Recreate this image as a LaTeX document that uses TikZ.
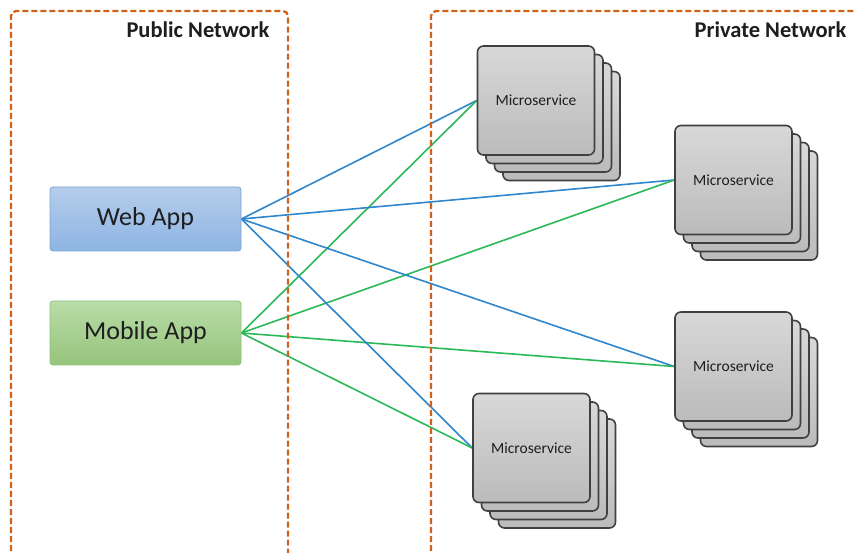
\documentclass[tikz,border=0pt]{standalone}
\usepackage{fontspec}
\setmainfont{Carlito}
\usetikzlibrary{backgrounds}

\definecolor{naranja}{HTML}{D0631A}
\definecolor{texto}{HTML}{1E1E1E}
\definecolor{azul}{HTML}{2E86CD}
\definecolor{verde}{HTML}{2BB857}
\definecolor{grisclaro}{HTML}{D8D8D8}
\definecolor{grisoscuro}{HTML}{BBBBBB}
\definecolor{borde}{HTML}{404040}
\definecolor{webborde}{HTML}{7BA3D6}
\definecolor{webarriba}{HTML}{B5CDEB}
\definecolor{webabajo}{HTML}{8EB4E3}
\definecolor{movilborde}{HTML}{8DC17A}
\definecolor{movilarriba}{HTML}{B9DCA8}
\definecolor{movilabajo}{HTML}{96C47C}

% Pila de microservicios: nombre, x, y
\newcommand{\pila}[3]{%
  \foreach \d in {25.5,17,8.5}
    \node[servicio] at (#2+\d,#3+\d) {};
  \node[servicio] (#1) at (#2,#3) {Microservice};
}

\begin{document}
\begin{tikzpicture}[x=1pt,y=-1pt,
    app/.style={draw, line width=0.8pt, rounded corners=3pt, minimum width=191pt,
      minimum height=64pt, font=\fontsize{26}{30}\selectfont, text=texto},
    servicio/.style={draw=borde, line width=1.6pt, rounded corners=6pt,
      top color=grisclaro, bottom color=grisoscuro, minimum width=117pt,
      minimum height=109pt, font=\fontsize{15.5}{18}\selectfont, text=texto},
    red/.style={draw=naranja, line width=2.3pt, dash pattern=on 6pt off 3pt,
      rounded corners=5pt},
    enlace/.style={line width=1.6pt}]
  \useasboundingbox (0,0) rectangle (855,553);

  % Aplicaciones cliente
  \node[app, draw=webborde, top color=webarriba, bottom color=webabajo] (web) at (145.5,219) {Web App};
  \node[app, draw=movilborde, top color=movilarriba, bottom color=movilabajo] (mobile) at (145.5,333) {Mobile App};

  % Microservicios apilados
  \pila{ms1}{536}{100.5}
  \pila{ms2}{733.5}{180}
  \pila{ms3}{733.5}{366.5}
  \pila{ms4}{531.5}{448}

  % Conexiones de las aplicaciones
  \begin{scope}[on background layer]
    \foreach \m in {ms1,ms2,ms3,ms4} {
      \draw[enlace, azul] (web.east) -- (\m.west);
      \draw[enlace, verde] (mobile.east) -- (\m.west);
    }
  \end{scope}

  % Redes publica y privada
  \draw[red] (11,560) -- (11,11) -- (288,11) -- (288,560);
  \draw[red] (431,560) -- (431,11) -- (870,11);
  \node[anchor=base east, text=texto, font=\bfseries\fontsize{22.5}{26}\selectfont] (publica) at (273,38) {Public Network};
  \node[anchor=base east, text=texto, font=\bfseries\fontsize{22.5}{26}\selectfont] (privada) at (850,38) {Private Network};
\end{tikzpicture}
\end{document}
